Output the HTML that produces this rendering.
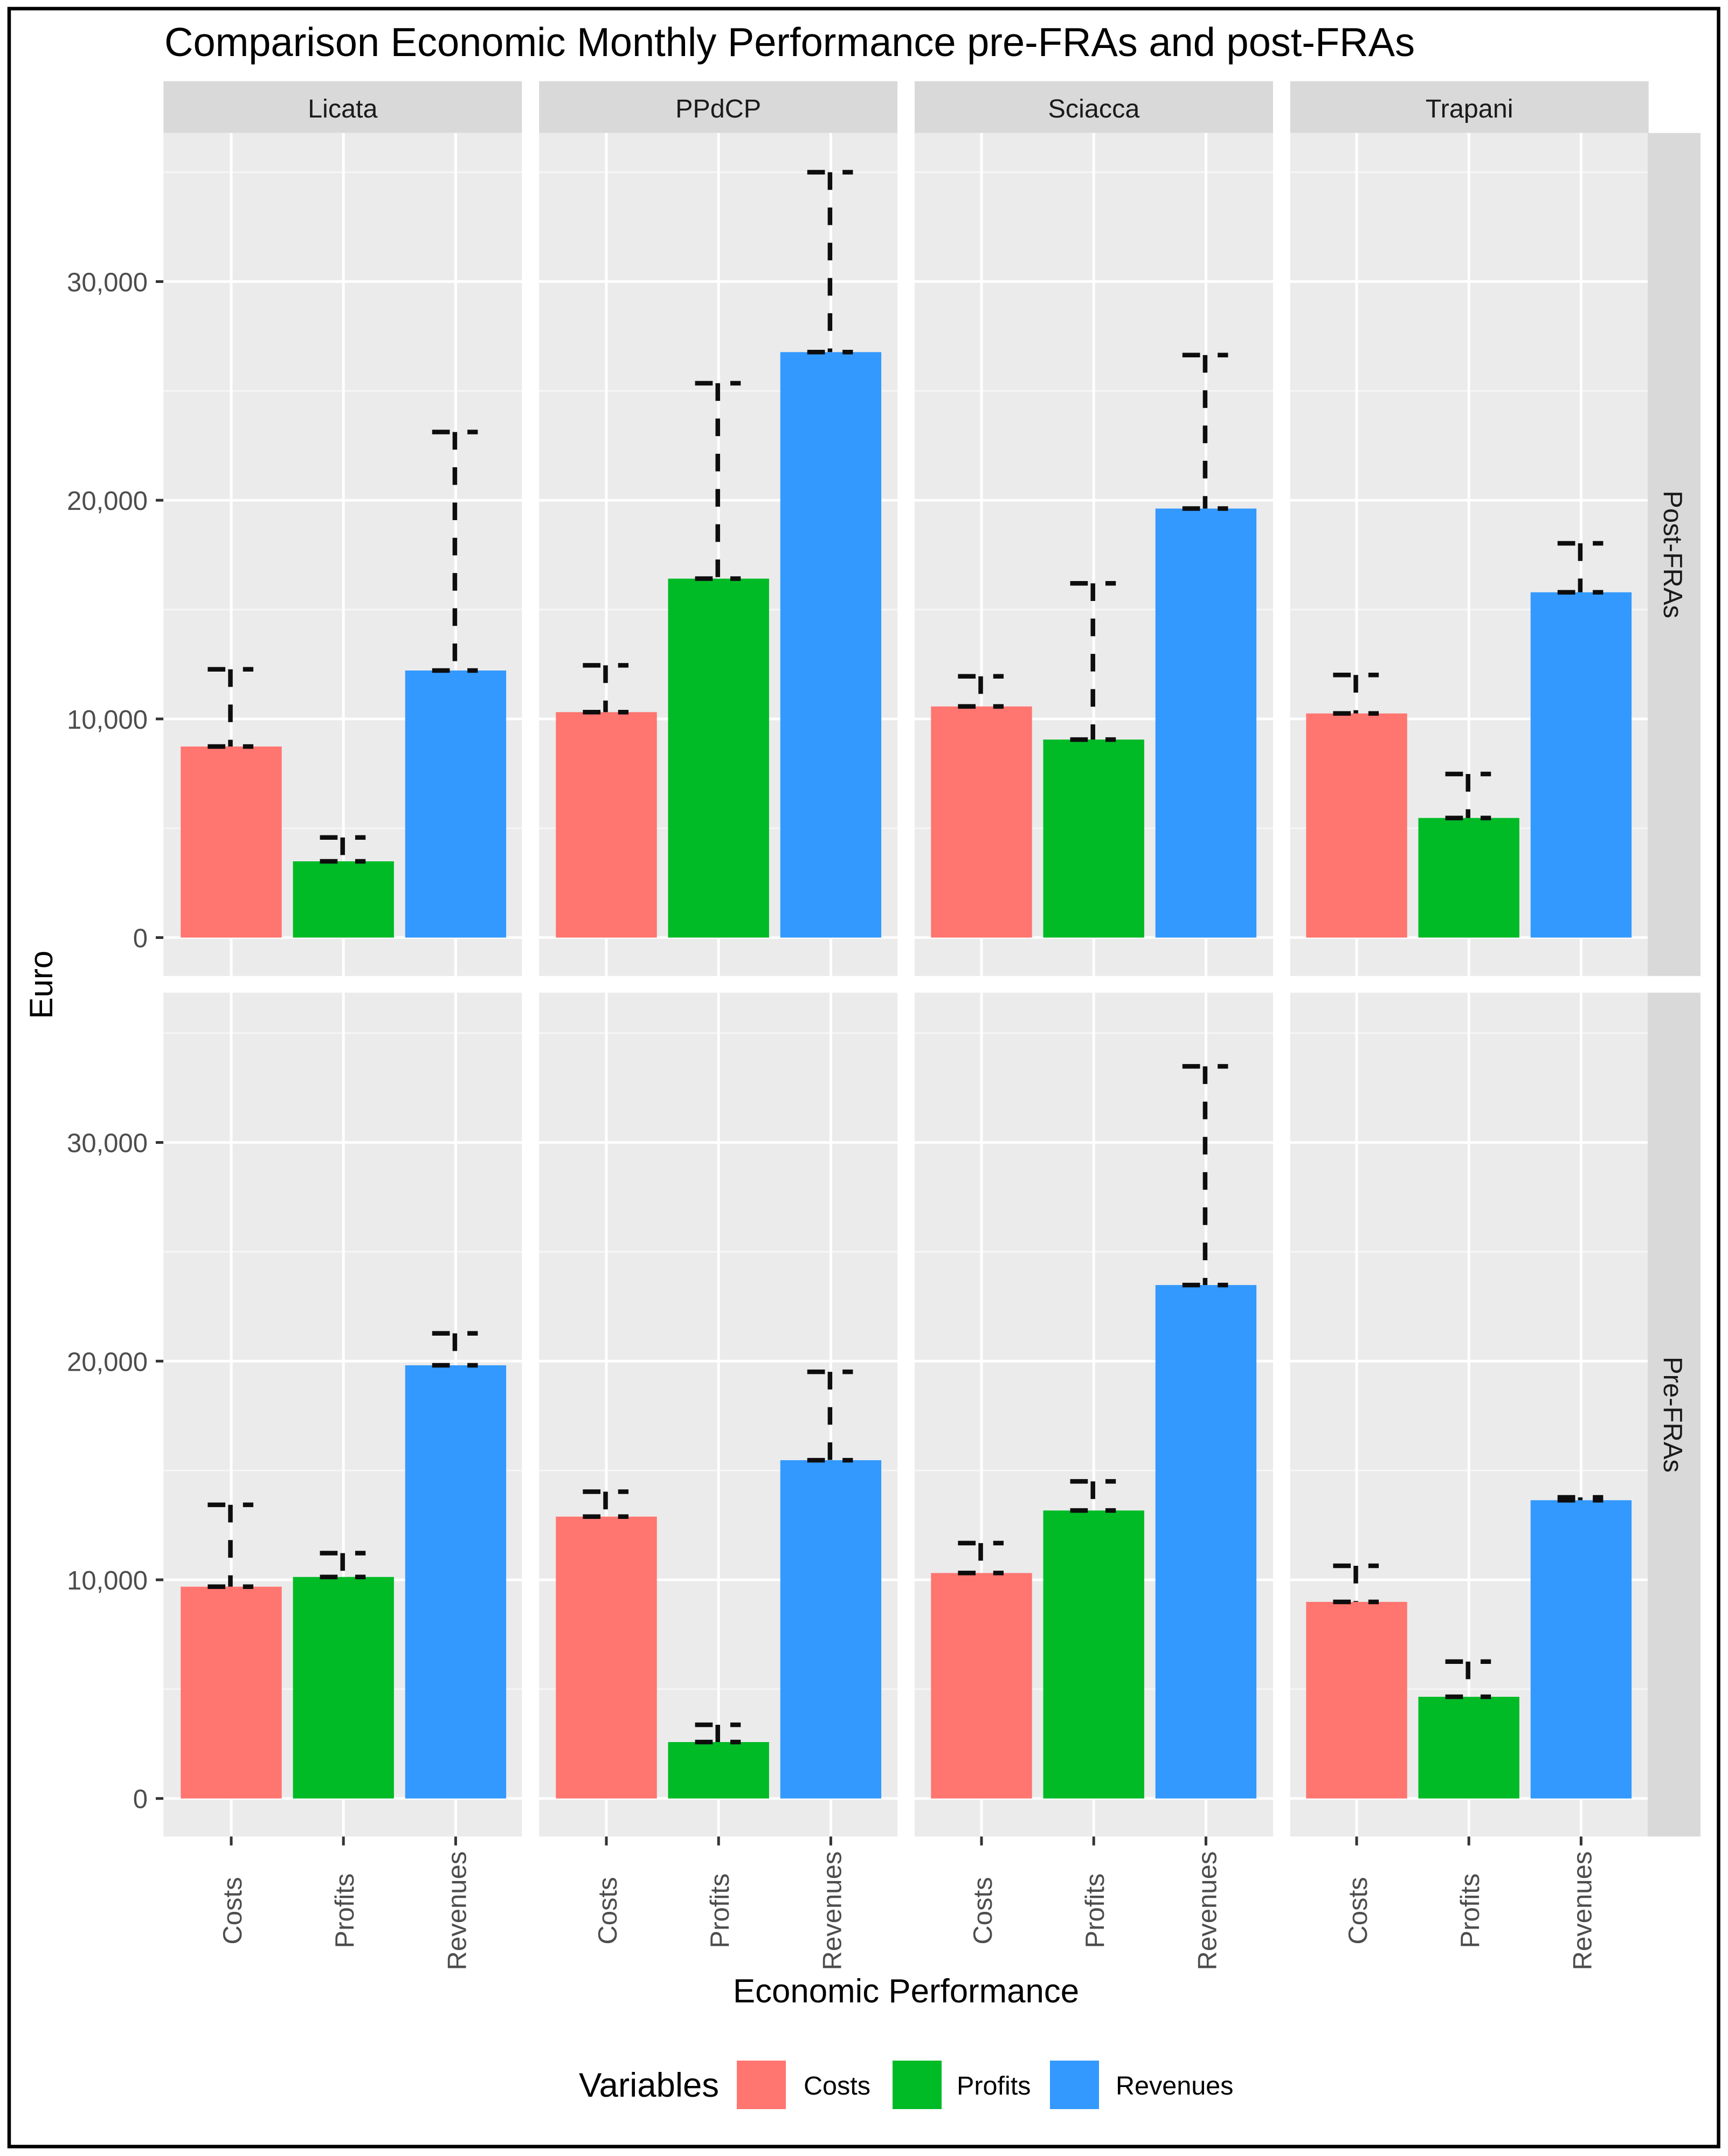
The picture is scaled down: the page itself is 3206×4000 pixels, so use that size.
<!DOCTYPE html>
<html lang="en">
<head>
<meta charset="utf-8">
<title>Comparison Economic Monthly Performance pre-FRAs and post-FRAs</title>
<style>
  html, body { margin: 0; padding: 0; background: #fff; }
  svg { display: block; font-family: "Liberation Sans", Arial, sans-serif; }
</style>
</head>
<body>
<svg id="chart" xmlns="http://www.w3.org/2000/svg" width="3206" height="4000" viewBox="0 0 3206 4000">
  <rect x="0" y="0" width="3206" height="4000" fill="#ffffff"/>
  <rect x="17" y="16" width="3171.5" height="3966.5" fill="none" stroke="#000000" stroke-width="6.5"/>
  <text x="305" y="104" font-size="74.7" fill="#000000" textLength="2320" lengthAdjust="spacingAndGlyphs">Comparison Economic Monthly Performance pre-FRAs and post-FRAs</text>
  <g id="plot"></g>
  <text transform="translate(97,1827) rotate(-90)" text-anchor="middle" font-size="60" fill="#000000">Euro</text>
  <text x="1681" y="3715" text-anchor="middle" font-size="61.8" fill="#000000">Economic Performance</text>
  <g>
    <text x="1074" y="3890" font-size="63.5" fill="#000000">Variables</text>
    <rect x="1367" y="3823" width="91" height="90" fill="#FF7570"/>
    <text x="1491" y="3886" font-size="48.5" fill="#000000">Costs</text>
    <rect x="1656" y="3823" width="91" height="90" fill="#00BA26"/>
    <text x="1775" y="3886" font-size="48.5" fill="#000000">Profits</text>
    <rect x="1948" y="3823" width="91" height="90" fill="#3399FF"/>
    <text x="2070" y="3886" font-size="48.5" fill="#000000">Revenues</text>
  </g>
</svg>
<script>
const facets = ['Licata', 'PPdCP', 'Sciacca', 'Trapani'];
const rowLabels = ['Post-FRAs', 'Pre-FRAs'];
const categories = ['Costs', 'Profits', 'Revenues'];
const barColors = ['#FF7570', '#00BA26', '#3399FF'];

// Post-FRAs means and upper error bounds, one value per facet
const postCosts = [8738, 10310, 10570, 10250];
const postProfits = [3488, 16415, 9056, 5470];
const postRevenues = [12214, 26774, 19620, 15790];
const postCostsUpper = [12270, 12450, 11950, 12010];
const postProfitsUpper = [4580, 25350, 16200, 7480];
const postRevenuesUpper = [23120, 35000, 26640, 18030];

// Pre-FRAs means and upper error bounds, one value per facet
const preCosts = [9685, 12890, 10310, 8990];
const preProfits = [10130, 2580, 13170, 4650];
const preRevenues = [19810, 15470, 23480, 13640];
const preCostsUpper = [13430, 14030, 11680, 10640];
const preProfitsUpper = [11220, 3370, 14500, 6260];
const preRevenuesUpper = [21270, 19510, 33480, 13770];

const yMajorValues = [0, 10000, 20000, 30000];
const yMinorValues = [5000, 15000, 25000, 35000];
const yTickLabels = ['0', '10,000', '20,000', '30,000'];

const means = [[postCosts, postProfits, postRevenues], [preCosts, preProfits, preRevenues]];
const uppers = [[postCostsUpper, postProfitsUpper, postRevenuesUpper], [preCostsUpper, preProfitsUpper, preRevenuesUpper]];

const SVGNS = 'http://www.w3.org/2000/svg';
const plot = document.getElementById('plot');

const panelLeft = 303.3;
const panelPitch = 696.8;
const panelWidth = 665;
const xUnit = 208.2;
const rowTop = [246.7, 1841.7];
const rowBottom = [1810.7, 3407.3];
const rowZero = [1739.5, 3336.7];
const pxPerEuro = 0.04057;

function panelX(p) { return panelLeft + p * panelPitch; }
function xScale(p, c) { return 429 + p * 696 + c * xUnit; }
function yScale(r, v) { return rowZero[r] - v * pxPerEuro; }

function make(tag, attrs, parent, text) {
  const el = document.createElementNS(SVGNS, tag);
  for (const k in attrs) el.setAttribute(k, attrs[k]);
  if (text !== undefined) el.textContent = text;
  parent.appendChild(el);
  return el;
}

function slug(s) { return s.toLowerCase().replace(/[^a-z0-9]+/g, '-'); }

// Facet strips along the top
facets.forEach(function (name, p) {
  const strip = make('rect', { x: panelX(p), y: 150.7, width: panelWidth, height: 96, fill: '#D9D9D9' }, plot);
  
  
  const label = make('text', { x: panelX(p) + panelWidth / 2, y: 218, 'text-anchor': 'middle', 'font-size': 48.5, fill: '#1A1A1A' }, plot, name);
  
  
});

rowLabels.forEach(function (rowName, r) {
  // Y-axis ticks and labels on the first column only
  yMajorValues.forEach(function (v, i) {
    const tick = make('line', { x1: 289, x2: panelLeft, y1: yScale(r, v), y2: yScale(r, v), stroke: '#333333', 'stroke-width': 5 }, plot);
    
    
    const label = make('text', { x: 274, y: yScale(r, v) + 18, 'text-anchor': 'end', 'font-size': 49, fill: '#4D4D4D' }, plot, yTickLabels[i]);
    
    
  });

  facets.forEach(function (facet, p) {
    const id = slug(rowName) + '-' + slug(facet);
    const panel = make('g', {}, plot);
    
    

    const bg = make('rect', { x: panelX(p), y: rowTop[r], width: panelWidth, height: rowBottom[r] - rowTop[r], fill: '#EBEBEB' }, panel);
    
    

    yMinorValues.forEach(function (v) {
      const g = make('line', { x1: panelX(p), x2: panelX(p) + panelWidth, y1: yScale(r, v), y2: yScale(r, v), stroke: '#F7F7F7', 'stroke-width': 2.6 }, panel);
      
      
    });
    yMajorValues.forEach(function (v) {
      const g = make('line', { x1: panelX(p), x2: panelX(p) + panelWidth, y1: yScale(r, v), y2: yScale(r, v), stroke: '#FFFFFF', 'stroke-width': 4.8 }, panel);
      
      
    });

    categories.forEach(function (cat, c) {
      const cx = xScale(p, c);
      const catId = slug(cat);

      const grid = make('line', { x1: cx, x2: cx, y1: rowTop[r], y2: rowBottom[r], stroke: '#FFFFFF', 'stroke-width': 5 }, panel);
      
      
    });

    categories.forEach(function (cat, c) {
      const cx = xScale(p, c);
      const catId = slug(cat);
      const mean = means[r][c][p];
      const upper = uppers[r][c][p];
      const top = yScale(r, mean);
      const hi = yScale(r, upper);
      const halfBar = 0.45 * xUnit;
      const halfCap = 0.2 * xUnit;

      const bar = make('rect', { x: cx - halfBar, y: top, width: 2 * halfBar, height: rowZero[r] - top, fill: barColors[c] }, panel);
      
      

      const err = make('g', { stroke: '#0D0D0D', 'stroke-width': 8.5, 'stroke-dasharray': '32.7 32.7', fill: 'none' }, panel);
      
      
      const capTop = make('line', { x1: cx - halfCap - 2, x2: cx + halfCap - 0.6, y1: hi, y2: hi }, err);
      
      
      const stem = make('line', { x1: cx - 1.5, x2: cx - 1.5, y1: hi, y2: top }, err);
      
      
      const capLow = make('line', { x1: cx - halfCap - 2, x2: cx + halfCap - 0.6, y1: top, y2: top }, err);
      
      

      if (r === 1) {
        const tick = make('line', { x1: cx, x2: cx, y1: rowBottom[r], y2: rowBottom[r] + 16.5, stroke: '#333333', 'stroke-width': 5 }, plot);
        
        
        const label = make('text', { transform: 'translate(' + (cx + 19) + ',3545) rotate(-90)', 'text-anchor': 'middle', 'font-size': 49, fill: '#4D4D4D' }, plot, cat);
        
        
      }
    });
  });
});

// Row strips along the right, drawn last so they sit flush against the panels
rowLabels.forEach(function (name, r) {
  const stripX = 3057;
  const strip = make('rect', { x: stripX, y: rowTop[r], width: 3155 - stripX, height: rowBottom[r] - rowTop[r], fill: '#D9D9D9' }, plot);
  
  
  const label = make('text', { transform: 'translate(3087,' + ((rowTop[r] + rowBottom[r]) / 2) + ') rotate(90)', 'text-anchor': 'middle', 'font-size': 49, fill: '#1A1A1A' }, plot, name);
  
  
});
</script>
</body>
</html>
